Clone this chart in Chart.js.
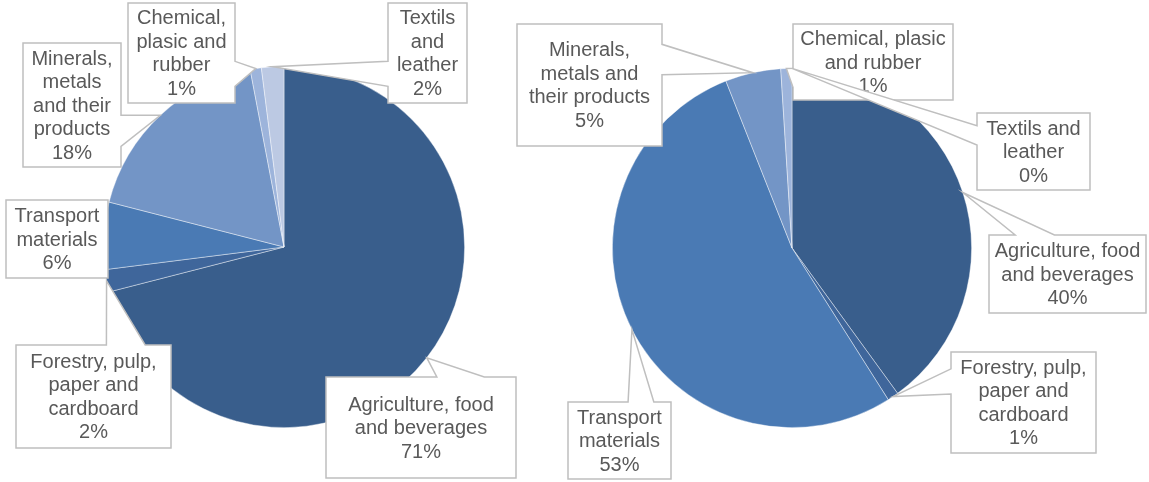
<!DOCTYPE html>
<html>
<head>
<meta charset="utf-8">
<script src="https://cdn.jsdelivr.net/npm/chart.js@4.4.1/dist/chart.umd.min.js"></script>
<style>
  html, body { margin: 0; padding: 0; background: #fff; }
  #wrap { position: relative; width: 1149px; height: 482px; }
  #wrap canvas { position: absolute; left: 0; top: 0; }
</style>
</head>
<body>
<div id="wrap">
  <canvas id="pie-left" width="1149" height="482"></canvas>
  <canvas id="pie-right" width="1149" height="482"></canvas>
</div>
<script>
// sectors, same order in both pies (clockwise from 12 o'clock)
var categories = ['Agriculture, food and beverages', 'Forestry, pulp, paper and cardboard',
                  'Transport materials', 'Minerals, metals and their products',
                  'Chemical, plasic and rubber', 'Textils and leather'];
var sharesLeft  = [71, 2, 6, 18, 1, 2];
var sharesRight = [40, 1, 53, 5, 1, 0];

var sliceColors = ['#395E8C', '#3F669B', '#4A7AB4', '#7395C6', '#9DB4DB', '#BCC9E3'];

// how each label wraps inside its callout
var linesLeft = [
  ['Agriculture, food', 'and beverages'],
  ['Forestry, pulp,', 'paper and', 'cardboard'],
  ['Transport', 'materials'],
  ['Minerals,', 'metals', 'and their', 'products'],
  ['Chemical,', 'plasic and', 'rubber'],
  ['Textils', 'and', 'leather']
];
var linesRight = [
  ['Agriculture, food', 'and beverages'],
  ['Forestry, pulp,', 'paper and', 'cardboard'],
  ['Transport', 'materials'],
  ['Minerals,', 'metals and', 'their products'],
  ['Chemical, plasic', 'and rubber'],
  ['Textils and', 'leather']
];

// callout boxes [x, y, w, h]
var boxesLeft = [
  [326, 377, 190, 101],
  [16, 345, 155, 103],
  [6, 200, 102, 78],
  [23, 43, 98, 124],
  [128, 3, 107, 100],
  [388, 3, 79, 100]
];
var boxesRight = [
  [989, 235, 157, 78],
  [951, 352, 145, 101],
  [568, 402, 103, 77],
  [517, 24, 145, 122],
  [793, 24, 160, 76],
  [977, 113, 113, 77]
];

// rectangle callout with a wedge pointing at the slice
function calloutPath(ctx, b, tip) {
  var x = b[0], y = b[1], w = b[2], h = b[3];
  var inside = tip.x >= x && tip.x <= x + w && tip.y >= y && tip.y <= y + h;
  var dx = tip.x - (x + w / 2), dy = tip.y - (y + h / 2);
  var dq = dx * h / w;
  var side = null;
  if (!inside) {
    if (Math.abs(dy) > Math.abs(dq)) side = dy < 0 ? 'top' : 'bottom';
    else side = dx < 0 ? 'left' : 'right';
  }
  var a = w * (dx > 0 ? 7 : 2) / 12, bb = w * (dx > 0 ? 10 : 5) / 12;
  var c = h * (dy > 0 ? 7 : 2) / 12, d = h * (dy > 0 ? 10 : 5) / 12;

  ctx.beginPath();
  ctx.moveTo(x, y);
  if (side == 'top') { ctx.lineTo(x + a, y); ctx.lineTo(tip.x, tip.y); ctx.lineTo(x + bb, y); }
  ctx.lineTo(x + w, y);
  if (side == 'right') { ctx.lineTo(x + w, y + c); ctx.lineTo(tip.x, tip.y); ctx.lineTo(x + w, y + d); }
  ctx.lineTo(x + w, y + h);
  if (side == 'bottom') { ctx.lineTo(x + bb, y + h); ctx.lineTo(tip.x, tip.y); ctx.lineTo(x + a, y + h); }
  ctx.lineTo(x, y + h);
  if (side == 'left') { ctx.lineTo(x, y + d); ctx.lineTo(tip.x, tip.y); ctx.lineTo(x, y + c); }
  ctx.closePath();
}

var calloutPlugin = {
  id: 'callouts',
  afterDatasetsDraw: function(chart, args, opts) {
    var ctx = chart.ctx;
    var meta = chart.getDatasetMeta(0);
    var values = chart.data.datasets[0].data;
    var total = values.reduce(function(s, v) { return s + v; }, 0);
    ctx.save();
    meta.data.forEach(function(arc, i) {
      var p = arc.getProps(['x', 'y', 'startAngle', 'endAngle', 'outerRadius'], true);
      var mid = (p.startAngle + p.endAngle) / 2;
      var tip = { x: p.x + Math.cos(mid) * p.outerRadius, y: p.y + Math.sin(mid) * p.outerRadius };
      var box = opts.boxes[i];

      calloutPath(ctx, box, tip);
      ctx.fillStyle = '#ffffff';
      ctx.fill();
      ctx.lineWidth = 1.5;
      ctx.strokeStyle = '#BFBFBF';
      ctx.lineJoin = 'miter';
      ctx.stroke();

      var lines = opts.lines[i].concat([Math.round(values[i] / total * 100) + '%']);
      var lh = 23.5;
      var y0 = box[1] + box[3] / 2 - (lines.length - 1) * lh / 2;
      ctx.font = '20px "Liberation Sans", Arial, sans-serif';
      ctx.fillStyle = '#595959';
      ctx.textAlign = 'center';
      ctx.textBaseline = 'middle';
      lines.forEach(function(t, k) {
        ctx.fillText(t, box[0] + box[2] / 2, y0 + k * lh + 1);
      });
    });
    ctx.restore();
  }
};

function makePie(id, shares, padding, boxes, lines) {
  return new Chart(document.getElementById(id), {
    type: 'pie',
    data: {
      labels: categories,
      datasets: [{
        data: shares,
        backgroundColor: sliceColors,
        borderColor: 'rgba(255,255,255,0.55)',
        borderWidth: 0.75
      }]
    },
    options: {
      responsive: false,
      animation: false,
      devicePixelRatio: 1,
      events: [],
      layout: { padding: padding },
      plugins: {
        legend: { display: false },
        tooltip: { enabled: false },
        callouts: { boxes: boxes, lines: lines }
      }
    },
    plugins: [calloutPlugin]
  });
}

makePie('pie-left', sharesLeft, { left: 103, right: 684, top: 66, bottom: 54 }, boxesLeft, linesLeft);
makePie('pie-right', sharesRight, { left: 612, right: 177, top: 68, bottom: 54 }, boxesRight, linesRight);
</script>
</body>
</html>
